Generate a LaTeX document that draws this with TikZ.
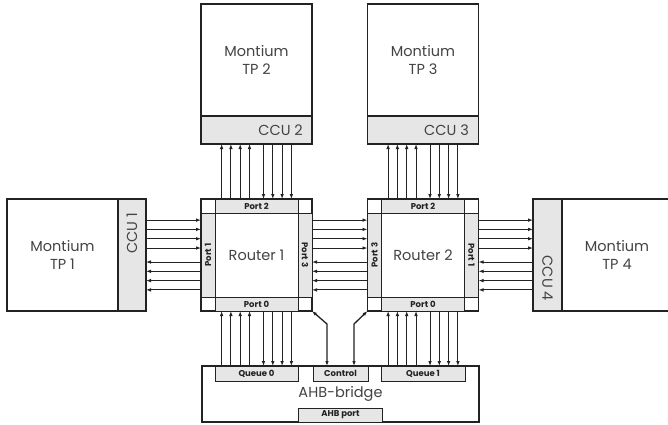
\documentclass[tikz,border=0pt]{standalone}
\usepackage{fontspec}
\setmainfont{Poppins}
\usetikzlibrary{arrows.meta, calc}
\definecolor{bandgray}{HTML}{E6E6E6}
\definecolor{inkdark}{HTML}{222222}
\tikzset{
  arr/.style={-{Latex[length=5pt,width=3.6pt]}, line width=0.9pt, inkdark},
  darr/.style={{Latex[length=5pt,width=3.6pt]}-{Latex[length=5pt,width=3.6pt]}, line width=1.3pt, inkdark},
  tpbox/.style={rectangle, draw=inkdark, fill=white, line width=1.6pt, outer sep=0pt, inner sep=0pt, align=center, text=inkdark!85},
  ccubox/.style={rectangle, draw=inkdark, fill=bandgray, line width=1.6pt, outer sep=0pt, inner sep=0pt},
  routerbox/.style={rectangle, draw=inkdark, fill=white, line width=1.5pt, outer sep=0pt, inner sep=0pt, minimum width=111pt, minimum height=112pt, text=inkdark!85},
  portband/.style={rectangle, draw=inkdark, fill=bandgray, line width=0.7pt, outer sep=0pt, inner sep=0pt, font=\fontsize{8.5}{10}\selectfont\bfseries, text=inkdark},
  ccutext/.style={inner sep=0pt, text=inkdark!85},
}

\begin{document}
\begin{tikzpicture}[x=1pt, y=-1pt, font=\fontsize{14.5}{18.5}\selectfont]
  \useasboundingbox (0,0) rectangle (668,424);
  \clip (0,0) rectangle (668,424);

  % Montium tiles with their CCUs
  \node[tpbox, minimum width=111pt, minimum height=112pt] (T1) at (62.5,255) {Montium\\TP 1};
  \node[ccubox, minimum width=28pt, minimum height=112pt] (C1) at (132,255) {};
  \node[ccutext, rotate=90, anchor=east] at (132,213) {CCU 1};

  \node[tpbox, minimum width=111pt, minimum height=112pt] (T2) at (256.5,60) {Montium\\TP 2};
  \node[ccubox, minimum width=111pt, minimum height=28pt] (C2) at (256.5,130) {};
  \node[ccutext, anchor=east] at (303,130) {CCU 2};

  \node[tpbox, minimum width=111pt, minimum height=112pt] (T3) at (423,60) {Montium\\TP 3};
  \node[ccubox, minimum width=111pt, minimum height=28pt] (C3) at (423,130) {};
  \node[ccutext, anchor=east] at (469,130) {CCU 3};

  \node[tpbox, minimum width=110pt, minimum height=112pt] (T4) at (617,255) {Montium\\TP 4};
  \node[ccubox, minimum width=29pt, minimum height=112pt] (C4) at (547.5,255) {};
  \node[ccutext, rotate=-90, anchor=east] at (547.5,301) {CCU 4};

  % Routers with their four ports
  \foreach \r/\cx/\n/\pl/\pr in {R1/256.5/1/1/3, R2/423/2/3/1} {
    \node[routerbox] (\r) at (\cx,255) {Router \n};
    \node[portband, minimum width=83pt, minimum height=14pt] (\r p2) at ($(\r.north)+(0,7)$) {Port 2};
    \node[portband, minimum width=83pt, minimum height=14pt] (\r p0) at ($(\r.south)+(0,-7)$) {Port 0};
    \node[portband, rotate=90, minimum width=84pt, minimum height=14pt] (\r pl) at ($(\r.west)+(7,0)$) {Port \pl};
    \node[portband, rotate=-90, minimum width=84pt, minimum height=14pt] (\r pr) at ($(\r.east)+(-7,0)$) {Port \pr};
  }

  % AHB-bridge
  \node[tpbox, minimum width=277pt, minimum height=56pt] (AHB) at (340.5,394) {AHB-bridge};
  \node[portband, minimum width=83pt, minimum height=15pt] (Q0) at (256.5,373.5) {Queue 0};
  \node[portband, minimum width=55pt, minimum height=15pt] (Ctl) at (340.5,373.5) {Control};
  \node[portband, minimum width=84pt, minimum height=15pt] (Q1) at (423,373.5) {Queue 1};
  \node[portband, minimum width=84pt, minimum height=14pt] (AP) at (340.5,415) {AHB port};

  % Links
  \foreach \off in {7,16.3,25.6,34.9} {
    \foreach \r/\c/\q in {R1/C2/Q0, R2/C3/Q1} {
      \draw[arr] ([xshift=-\off pt]\r.north) -- ([xshift=-\off pt]\c.south);
      \draw[arr] ([xshift=\off pt]\c.south) -- ([xshift=\off pt]\r.north);
      \draw[arr] ([xshift=-\off pt]\q.north) -- ([xshift=-\off pt]\r.south);
      \draw[arr] ([xshift=\off pt]\r.south) -- ([xshift=\off pt]\q.north);
    }
    \foreach \a/\b in {C1/R1, R1/R2, R2/C4} {
      \draw[arr] ([yshift=\off pt]\a.east) -- ([yshift=\off pt]\b.west);
      \draw[arr] ([yshift=-\off pt]\b.west) -- ([yshift=-\off pt]\a.east);
    }
  }

  % Control lines
  \draw[darr] ([xshift=-13.5pt]Ctl.north) -- ++(0,-42) -- (R1.south east);
  \draw[darr] ([xshift=13.5pt]Ctl.north) -- ++(0,-42) -- (R2.south west);
\end{tikzpicture}
\end{document}
